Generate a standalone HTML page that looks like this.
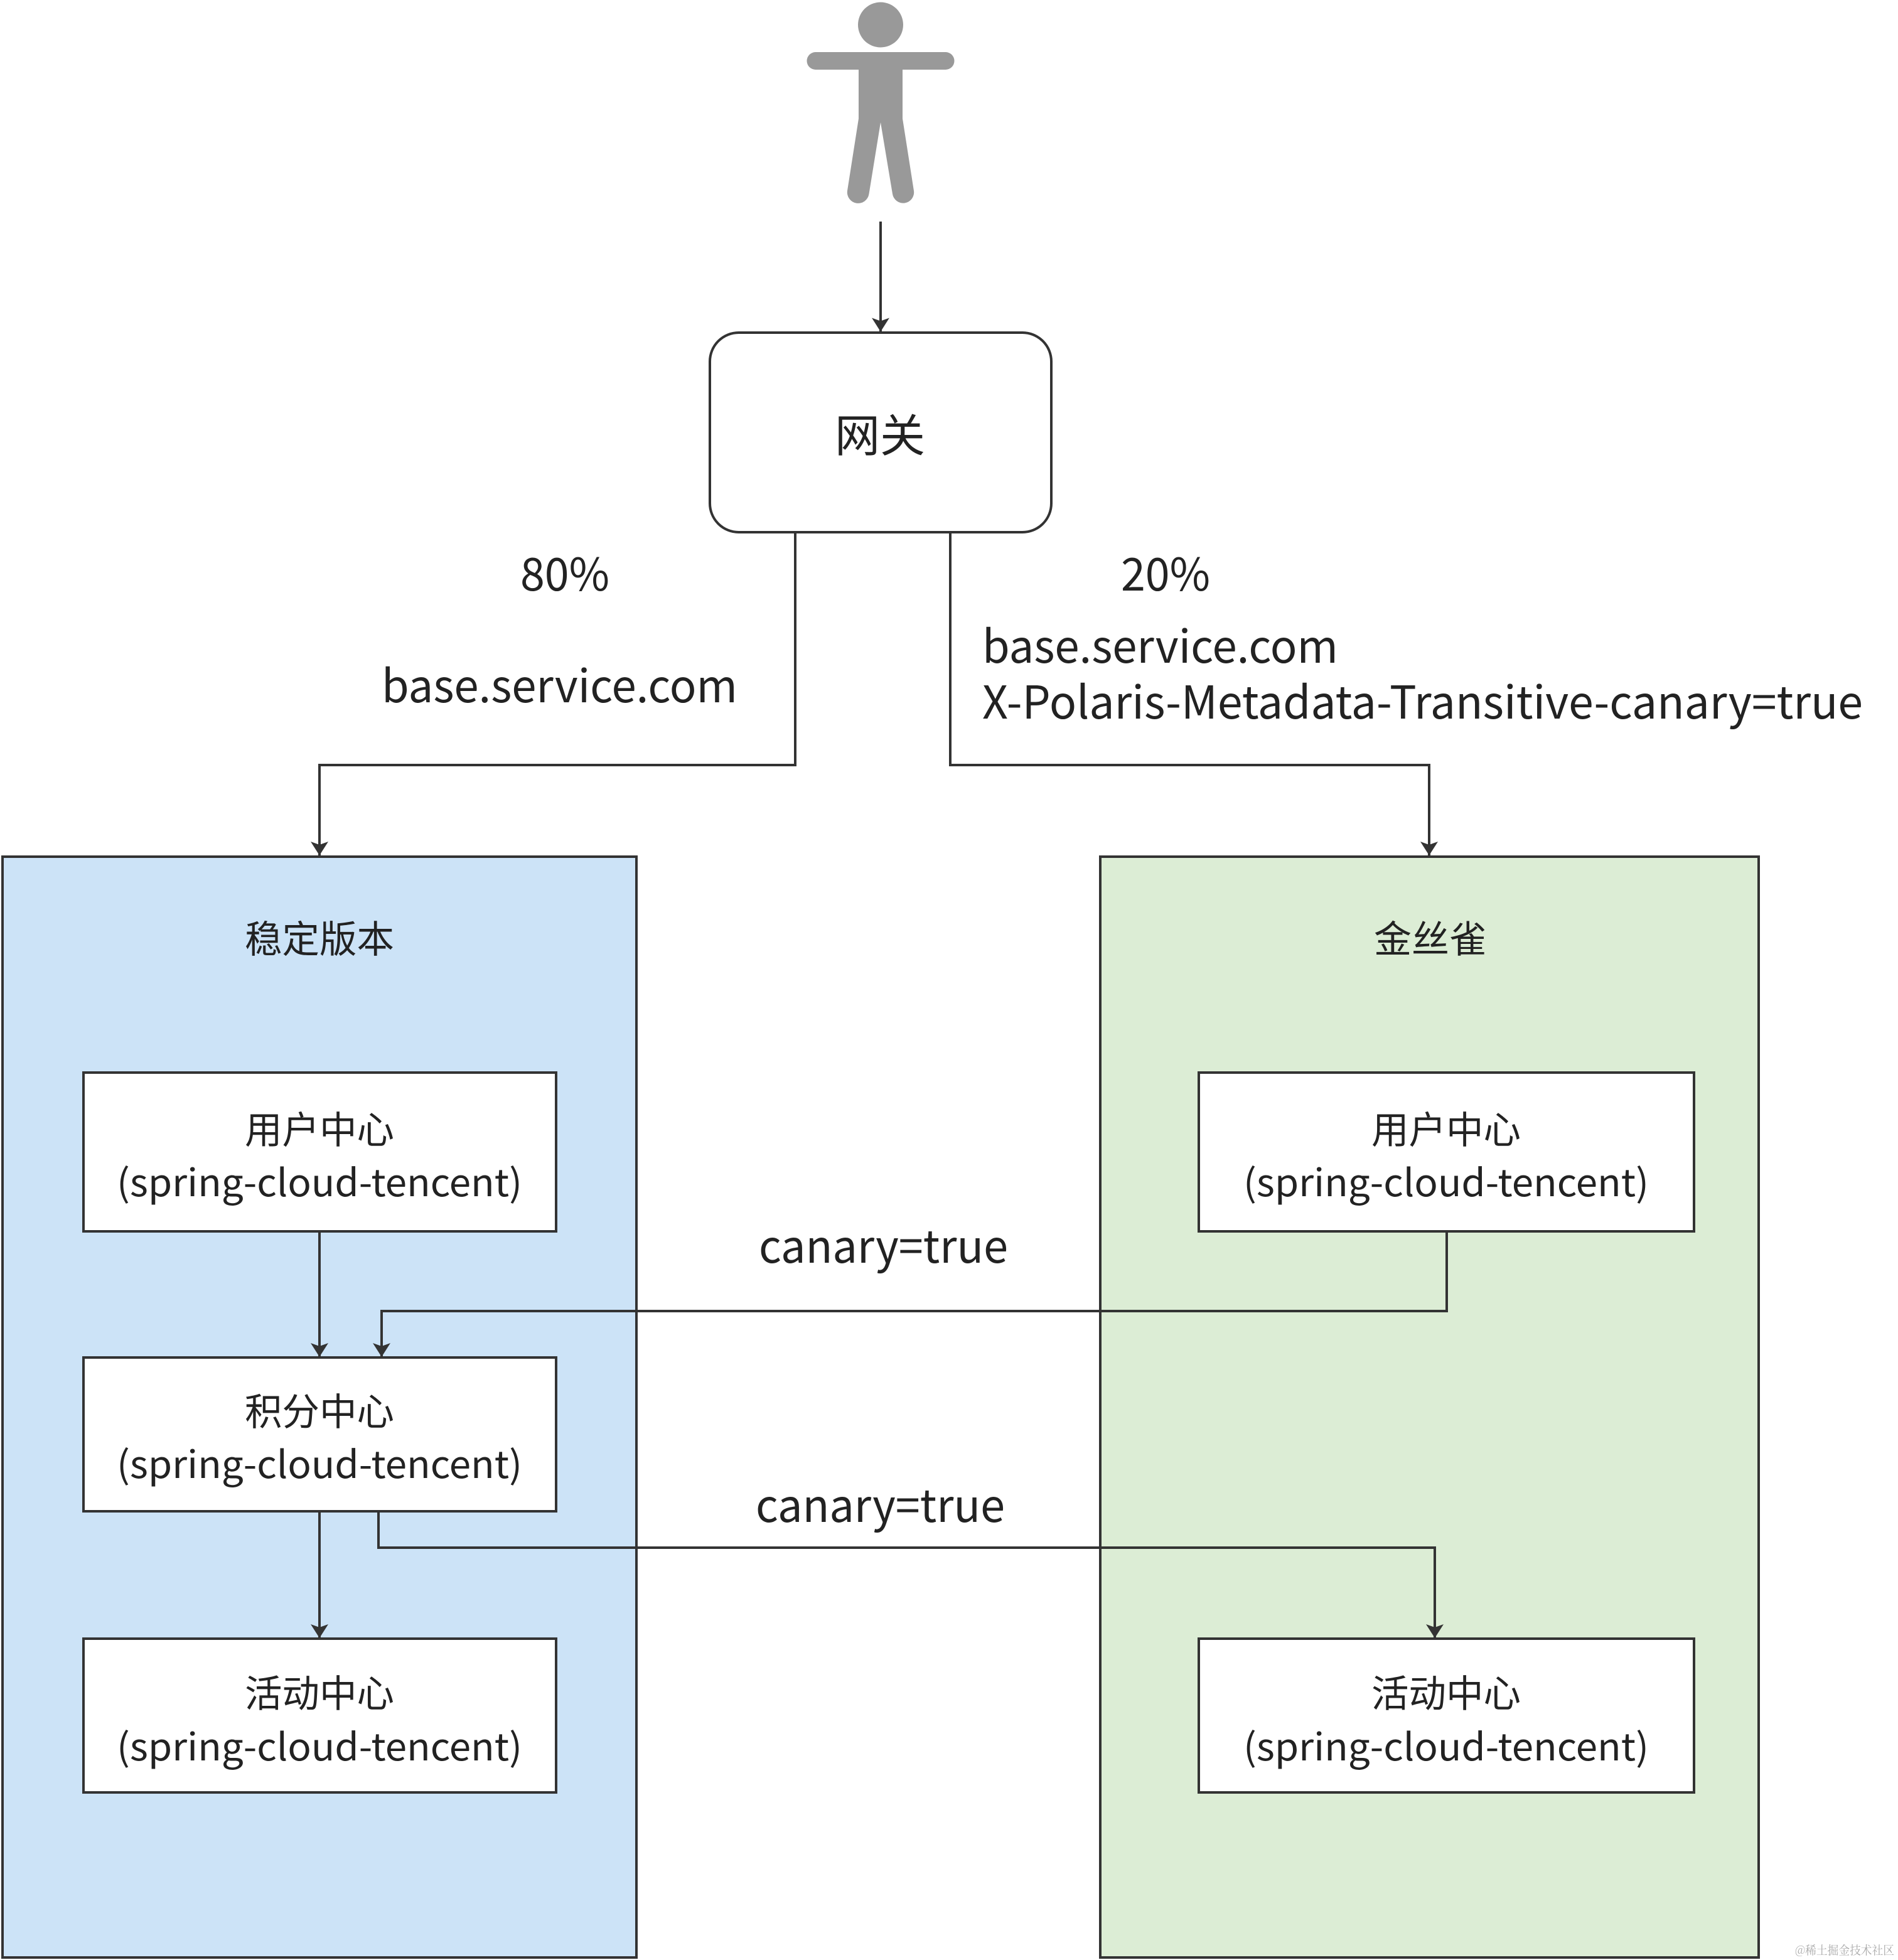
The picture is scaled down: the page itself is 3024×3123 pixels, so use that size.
<!DOCTYPE html>
<html><head><meta charset="utf-8"><style>html,body{margin:0;padding:0;background:#fff}svg{display:block}text{font-family:"Noto Sans CJK SC","Liberation Sans",sans-serif;fill:#222}</style></head><body>
<svg xmlns="http://www.w3.org/2000/svg" width="3024" height="3123" viewBox="0 0 3024 3123">
<defs><marker id="a" markerUnits="userSpaceOnUse" markerWidth="28" markerHeight="22" refX="14" refY="22" orient="0" viewBox="0 0 28 22"><path d="M0 0 L14 5 L28 0 L14 22 Z" fill="#333"/></marker></defs>
<rect x="4" y="1365" width="1010" height="1754" fill="#cce3f7" stroke="#333" stroke-width="4"/>
<rect x="1753" y="1365" width="1049" height="1754" fill="#dcedd5" stroke="#333" stroke-width="4"/>
<g fill="#999"><circle cx="1403" cy="39.5" r="36"/><rect x="1285.5" y="83" width="235" height="28" rx="14"/><path d="M1368 100H1438V189L1456 304A17 17 0 0 1 1422 309L1403 195L1384.5 309A17 17 0 0 1 1350 304L1368 189Z"/></g>
<rect x="1131" y="530" width="544" height="318" rx="46" fill="#fff" stroke="#333" stroke-width="4"/>
<g fill="#fff" stroke="#333" stroke-width="4"><rect x="133" y="1709" width="753" height="253"/><rect x="133" y="2163" width="753" height="245"/><rect x="133" y="2611" width="753" height="245"/><rect x="1910" y="1709" width="789" height="253"/><rect x="1910" y="2611" width="789" height="245"/></g>
<g fill="none" stroke="#333" stroke-width="4">
<path d="M1403 353V528.5" marker-end="url(#a)"/>
<path d="M1267 848V1219H509V1363" marker-end="url(#a)"/>
<path d="M1514 848V1219H2277V1363" marker-end="url(#a)"/>
<path d="M509 1962V2162" marker-end="url(#a)"/>
<path d="M509 2408V2610" marker-end="url(#a)"/>
<path d="M2305 1962V2089H608V2162" marker-end="url(#a)"/>
<path d="M603 2408V2466H2286V2610" marker-end="url(#a)"/>
</g>
<text x="1402" y="720" font-size="72" text-anchor="middle" textLength="144" lengthAdjust="spacingAndGlyphs">网关</text>
<text x="829" y="941" font-size="72" textLength="142" lengthAdjust="spacingAndGlyphs">80%</text>
<text x="1786" y="941" font-size="72" textLength="142" lengthAdjust="spacingAndGlyphs">20%</text>
<text x="608" y="1119" font-size="72" textLength="567" lengthAdjust="spacingAndGlyphs">base.service.com</text>
<text x="1565" y="1056" font-size="72" textLength="567" lengthAdjust="spacingAndGlyphs">base.service.com</text>
<text x="1565" y="1145" font-size="72" textLength="1403" lengthAdjust="spacingAndGlyphs">X-Polaris-Metadata-Transitive-canary=true</text>
<text x="509" y="1518" font-size="60" text-anchor="middle" textLength="238" lengthAdjust="spacingAndGlyphs">稳定版本</text>
<text x="2279" y="1518" font-size="60" text-anchor="middle" textLength="180" lengthAdjust="spacingAndGlyphs">金丝雀</text>
<g font-size="60" text-anchor="middle">
<text x="509" y="1822" textLength="238" lengthAdjust="spacingAndGlyphs">用户中心</text>
<text x="509" y="1906" textLength="646" lengthAdjust="spacingAndGlyphs">(spring-cloud-tencent)</text>
<text x="509" y="2271" textLength="238" lengthAdjust="spacingAndGlyphs">积分中心</text>
<text x="509" y="2355" textLength="646" lengthAdjust="spacingAndGlyphs">(spring-cloud-tencent)</text>
<text x="509" y="2720" textLength="238" lengthAdjust="spacingAndGlyphs">活动中心</text>
<text x="509" y="2805" textLength="646" lengthAdjust="spacingAndGlyphs">(spring-cloud-tencent)</text>
<text x="2304" y="1822" textLength="238" lengthAdjust="spacingAndGlyphs">用户中心</text>
<text x="2304" y="1906" textLength="646" lengthAdjust="spacingAndGlyphs">(spring-cloud-tencent)</text>
<text x="2304" y="2720" textLength="238" lengthAdjust="spacingAndGlyphs">活动中心</text>
<text x="2304" y="2805" textLength="646" lengthAdjust="spacingAndGlyphs">(spring-cloud-tencent)</text>
</g>
<text x="1209" y="2012" font-size="72" textLength="397" lengthAdjust="spacingAndGlyphs">canary=true</text>
<text x="1204" y="2425" font-size="72" textLength="397" lengthAdjust="spacingAndGlyphs">canary=true</text>
<text x="2860" y="3114" font-size="19" style="font-family:'Noto Serif CJK SC',serif;fill:#aaa" textLength="158" lengthAdjust="spacingAndGlyphs">@稀土掘金技术社区</text>
</svg>
</body></html>
